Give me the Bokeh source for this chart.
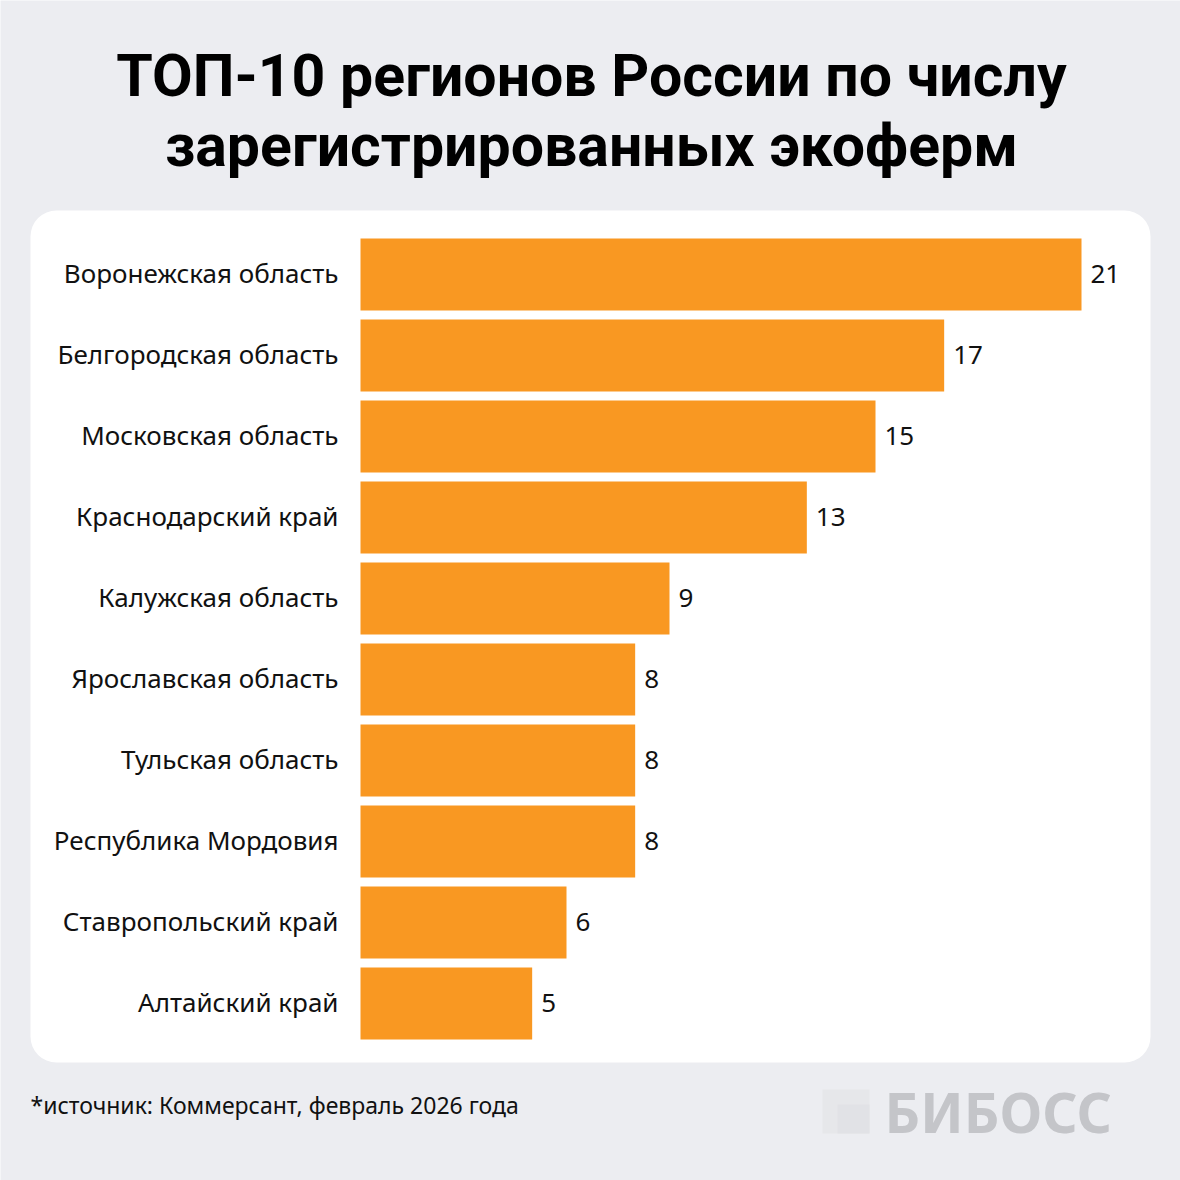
from bokeh.plotting import figure
from bokeh.models import Range1d, BoxAnnotation, Label, ColumnDataSource
from bokeh.core.properties import value
from bokeh.embed import file_html
from bokeh.resources import INLINE

regions = ["Воронежская область", "Белгородская область", "Московская область",
           "Краснодарский край", "Калужская область", "Ярославская область",
           "Тульская область", "Республика Мордовия", "Ставропольский край",
           "Алтайский край"]
counts = [21, 17, 15, 13, 9, 8, 8, 8, 6, 5]
title_lines = ["ТОП-10 регионов России по числу", "зарегистрированных экоферм"]
source_note = "*источник: Коммерсант, февраль 2026 года"
brand = "БИБОСС"

W = H = 1180
X0 = 360.0            # pixel where value 0 sits
PX = 721.0 / 21.0     # pixels per unit
Y0 = 274.0            # pixel centre of first bar
STEP = 81.0           # pixel pitch between bars

def X(px):
    return (px - X0) / PX

def Y(py):
    return (py - Y0) / STEP

BG = "#ECEDF1"
ORANGE = "#F99822"

p = figure(width=W, height=H, output_backend="svg", toolbar_location=None,
           x_range=Range1d(X(0), X(W)), y_range=Range1d(Y(H), Y(0)),
           min_border=0, x_axis_location=None, y_axis_location=None)
p.grid.visible = False
p.outline_line_color = None
p.background_fill_color = BG
p.border_fill_color = BG

# card
p.add_layout(BoxAnnotation(left=X(30), right=X(1150), top=Y(210), bottom=Y(1062),
                           fill_color="white", fill_alpha=1.0, line_color=None,
                           border_radius=26, level="underlay"))

idx = list(range(len(regions)))
src = ColumnDataSource(dict(y=idx, v=counts, name=regions,
                            lab=[str(c) for c in counts], zero=[0] * len(idx)))

p.hbar(y="y", left=0, right="v", height=72.0 / STEP, source=src,
       fill_color=ORANGE, line_color=None)

p.text(x="zero", y="y", text="name", source=src, x_offset=-22, y_offset=-2,
       text_align="right", text_baseline="middle",
       text_font=value("Noto Sans"), text_font_size="26px", text_color="#111111")
p.text(x="v", y="y", text="lab", source=src, x_offset=9, y_offset=-1,
       text_align="left", text_baseline="middle",
       text_font=value("Noto Sans"), text_font_size="26px", text_color="#111111")

# title
for line, base in zip(title_lines, [75, 145]):
    p.add_layout(Label(x=X(591), y=Y(base), text=line, text_align="center",
                       text_baseline="alphabetic", text_font="Roboto",
                       text_font_style="bold", text_font_size="59px",
                       text_color="#000000"))

# footer
p.add_layout(Label(x=X(30), y=Y(1104), text=source_note, text_align="left",
                   text_baseline="alphabetic", text_font="Noto Sans",
                   text_font_size="23px", text_color="#111111"))

# logo
p.add_layout(BoxAnnotation(left=X(822), right=X(869), top=Y(1089), bottom=Y(1133),
                           fill_color="#E6E7EA", fill_alpha=1.0, line_color=None))
p.add_layout(BoxAnnotation(left=X(837), right=X(869), top=Y(1104), bottom=Y(1133),
                           fill_color="#E1E2E6", fill_alpha=1.0, line_color=None))
p.add_layout(Label(x=X(884), y=Y(1111), text=brand, text_align="left",
                   text_baseline="alphabetic", text_font="Noto Sans",
                   text_font_style="bold", text_font_size="55px",
                   text_color="#C4C5C9"))

open("out.html", "w").write(file_html(p, INLINE))
